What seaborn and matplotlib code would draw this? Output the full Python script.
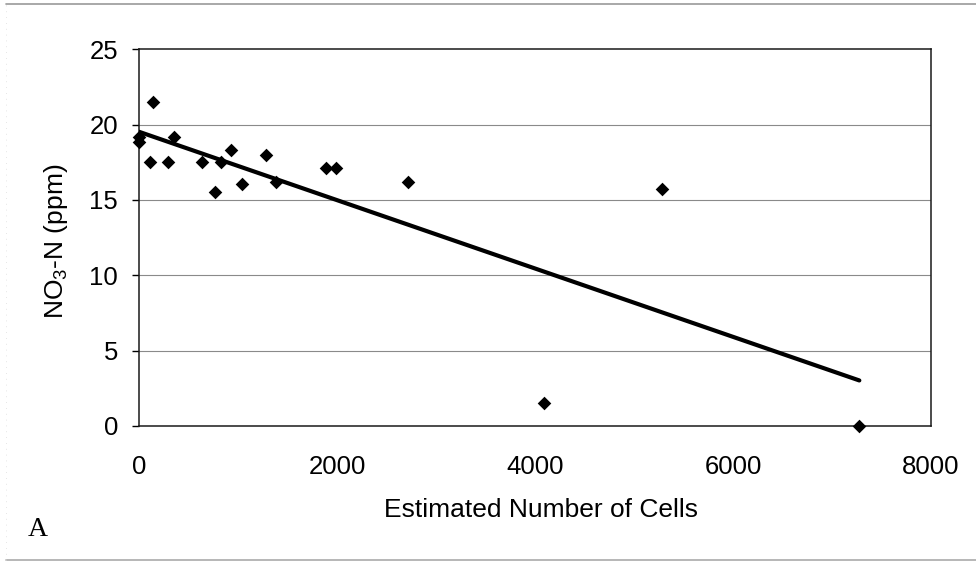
"""Nitrate-N versus estimated cell count, panel A."""

from __future__ import annotations

import matplotlib

matplotlib.use("Agg")

import matplotlib.pyplot as plt
import pandas as pd
import seaborn as sns
from matplotlib.lines import Line2D


# values
CELL_COUNTS = [0, 0, 144, 108, 296, 353, 639, 764, 824, 925,
               1036, 1278, 1389, 1884, 1995, 2717, 4087, 5281, 7276]
NITRATE_N = [19.18, 18.85, 21.47, 17.55, 17.55, 19.18, 17.55, 15.51, 17.55, 18.29,
             16.07, 18.0, 16.18, 17.13, 17.13, 16.18, 1.55, 15.73, 0.0]
Y_TICKS = [0, 5, 10, 15, 20, 25]
X_TICKS = [0, 2000, 4000, 6000, 8000]
X_LABEL = "Estimated Number of Cells"
Y_LABEL = r"NO$_{\mathregular{3}}$-N (ppm)"
PANEL = "A"


def build_frame() -> pd.DataFrame:
    return pd.DataFrame({"cells": CELL_COUNTS, "no3n": NITRATE_N})


def draw(df: pd.DataFrame) -> None:
    sns.set_theme(style="white")
    plt.rcParams["font.family"] = ["Liberation Sans", "DejaVu Sans"]
    plt.rcParams["mathtext.default"] = "regular"

    fig = plt.figure(figsize=(9.76, 5.62), dpi=100)
    ax = fig.add_axes([0.1424, 0.242, 0.8115, 0.6704])

    sns.regplot(
        data=df, x="cells", y="no3n", ax=ax, ci=None, marker="D",
        scatter_kws={"s": 48, "color": "black", "alpha": 1, "clip_on": False,
                     "zorder": 4, "linewidths": 0},
        line_kws={"color": "black", "linewidth": 3, "zorder": 3},
    )

    ax.set_xlim(X_TICKS[0], X_TICKS[-1])
    ax.set_ylim(Y_TICKS[0], Y_TICKS[-1])
    ax.set_xticks(X_TICKS)
    ax.set_yticks(Y_TICKS)
    ax.tick_params(axis="y", which="major", left=True, length=5, width=1, color="black",
                   direction="out", pad=10, labelsize=18.5, labelcolor="black")
    ax.tick_params(axis="x", length=0, pad=21, labelsize=18.5, labelcolor="black")

    for y in Y_TICKS[1:-1]:
        ax.axhline(y, color="#8a8a8a", linewidth=0.8, zorder=1)
    for side in ["left", "bottom", "top", "right"]:
        ax.spines[side].set_visible(True)
        ax.spines[side].set_color("#1a1a1a")
        ax.spines[side].set_linewidth(1.1)

    ax.set_xlabel(X_LABEL, fontsize=19, color="black")
    ax.xaxis.set_label_coords(0.508, -0.19)
    ax.set_ylabel(Y_LABEL, fontsize=19, color="black")
    ax.yaxis.set_label_coords(-0.087, 0.49)

    fig.text(0.039, 0.057, PANEL, family=["Liberation Serif", "DejaVu Serif"],
             fontsize=20, ha="center", va="center", color="black")

    # faint scan border around the panel
    fig.add_artist(Line2D([0.006, 1.0], [0.993, 0.993], color="#999999", linewidth=1.2))
    fig.add_artist(Line2D([0.006, 1.0], [0.004, 0.004], color="#aaaaaa", linewidth=1.2))
    fig.add_artist(Line2D([0.006, 0.006], [0.004, 0.993], color="#dddddd", linewidth=0.6,
                          linestyle=(0, (1, 6))))

    fig.savefig("out.png", dpi=100)
    plt.close(fig)


def main() -> None:
    draw(build_frame())


if __name__ == "__main__":
    main()
